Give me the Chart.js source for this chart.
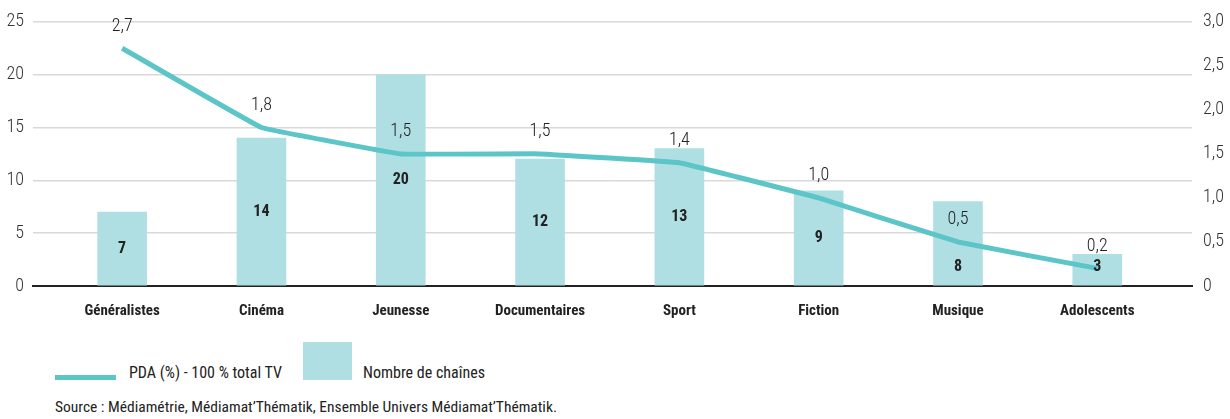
<!DOCTYPE html>
<html lang="fr">
<head>
<meta charset="utf-8">
<title>PDA et nombre de chaînes par genre</title>
<script src="https://cdn.jsdelivr.net/npm/chart.js@4/dist/chart.umd.min.js"></script>
<style>
    body { margin: 0; background: #fff; font-family: "Roboto Condensed", "DejaVu Sans Condensed", sans-serif; color: #222; }
    #wrap { position: relative; width: 1230px; height: 419px; }
    #chart { position: absolute; left: 0; top: 0; }
    .legend-line { position: absolute; left: 55px; top: 375px; width: 61px; height: 5px; background: #5bc5c8; }
    .legend-box { position: absolute; left: 303px; top: 342px; width: 49px; height: 38px; background: #b0dfe3; }
    .legend-text { position: absolute; top: 363px; font-size: 16px; line-height: 20px; color: #222; }
    .source { position: absolute; left: 55px; top: 397px; font-size: 15.5px; line-height: 20px; color: #222; }
</style>
</head>
<body>
<div id="wrap">
    <canvas id="chart" width="1230" height="330"></canvas>
    <div class="legend-line"></div>
    <div class="legend-text" style="left:129px">PDA (%) - 100 % total TV</div>
    <div class="legend-box"></div>
    <div class="legend-text" style="left:363px">Nombre de chaînes</div>
    <div class="source">Source : Médiamétrie, Médiamat’Thématik, Ensemble Univers Médiamat’Thématik.</div>
</div>
<script>
const categories = ["Généralistes", "Cinéma", "Jeunesse", "Documentaires", "Sport", "Fiction", "Musique", "Adolescents"];
const channelCounts = [7, 14, 20, 12, 13, 9, 8, 3];
const pdaShares = [2.7, 1.8, 1.5, 1.5, 1.4, 1.0, 0.5, 0.2];

const FONT = "'Roboto Condensed', 'DejaVu Sans Condensed', sans-serif";
const BAR_COLOR = "#b0dfe3";
const LINE_COLOR = "#5bc5c8";

function frNum(v, digits) {
    return v === 0 ? "0" : v.toFixed(digits).replace(".", ",");
}

// value labels: line values above points, bar counts inside bars
const valueLabels = {
    id: "valueLabels",
    afterDatasetsDraw(chart) {
        const ctx = chart.ctx;
        const bars = chart.getDatasetMeta(0).data;
        const points = chart.getDatasetMeta(1).data;
        ctx.save();
        ctx.textAlign = "center";
        ctx.textBaseline = "middle";
        ctx.fillStyle = "#222";
        ctx.font = `bold 16px ${FONT}`;
        bars.forEach((bar, i) => {
            let y = (bar.y + bar.base) / 2;
            // move the count down when it would sit on the line
            if (Math.abs(y - points[i].y) < 18) y = bar.base - 18;
            ctx.fillText(channelCounts[i], bar.x, y);
        });
        ctx.font = `300 18px ${FONT}`;
        ctx.fillStyle = "#222";
        points.forEach((pt, i) => {
            ctx.fillText(frNum(pdaShares[i], 1), pt.x, pt.y - 22);
        });
        ctx.restore();
    },
};

new Chart(document.getElementById("chart"), {
    type: "bar",
    data: {
        datasets: [
            {
                label: "Nombre de chaînes",
                data: channelCounts.map((v, i) => ({ x: i, y: v })),
                backgroundColor: BAR_COLOR,
                barThickness: 49,
                yAxisID: "y",
                order: 2,
            },
            {
                type: "line",
                label: "PDA (%) - 100 % total TV",
                data: pdaShares.map((v, i) => ({ x: i, y: v })),
                borderColor: LINE_COLOR,
                borderWidth: 5,
                pointRadius: 0,
                tension: 0.05,
                borderJoinStyle: "round",
                yAxisID: "y1",
                order: 1,
            },
        ],
    },
    options: {
        responsive: false,
        animation: false,
        devicePixelRatio: 1,
        layout: { padding: { top: 21, left: 0, right: 0, bottom: 0 } },
        plugins: { legend: { display: false }, tooltip: { enabled: false } },
        scales: {
            x: {
                type: "linear",
                offset: false,
                min: -0.64,
                max: 7.68,
                afterBuildTicks: (scale) => {
                    scale.ticks = categories.map((_, i) => ({ value: i }));
                },
                afterFit: (scale) => { scale.height = 44; },
                ticks: {
                    autoSkip: false,
                    maxRotation: 0,
                    padding: 8,
                    color: "#222",
                    font: { family: FONT, size: 15, weight: "bold" },
                    callback: (v) => categories[v],
                },
                grid: { display: false },
                border: { display: true, color: "#222", width: 2 },
            },
            y: {
                position: "left",
                min: 0,
                max: 25,
                ticks: { stepSize: 5, padding: 9, color: "#333", font: { family: FONT, size: 18, weight: 300 } },
                afterFit: (scale) => { scale.width = 33; },
                grid: { color: "#d9d9d9", lineWidth: 1.5, drawTicks: false },
                border: { display: false },
            },
            y1: {
                position: "right",
                min: 0,
                max: 3,
                ticks: {
                    stepSize: 0.5,
                    padding: 11,
                    color: "#333",
                    font: { family: FONT, size: 18, weight: 300 },
                    callback: (v) => frNum(v, 1),
                },
                afterFit: (scale) => { scale.width = 38; },
                grid: { display: false, drawTicks: false },
                border: { display: false },
            },
        },
    },
    plugins: [valueLabels],
});
</script>
</body>
</html>
